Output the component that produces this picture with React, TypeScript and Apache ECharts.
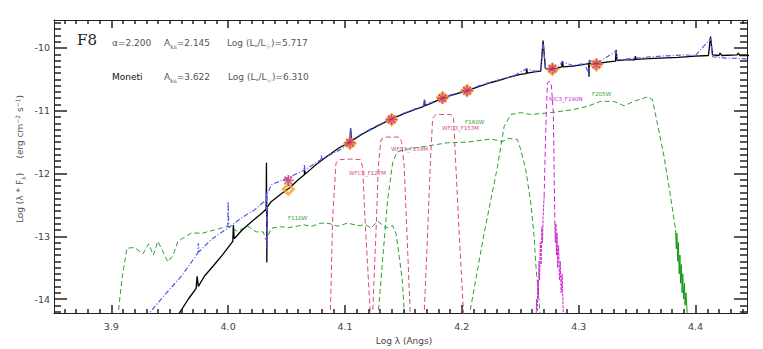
import React, { useEffect, useRef } from "react";
import * as echarts from "echarts";

const X_MIN = 3.851;
const X_MAX = 4.444;
const Y_MIN = -14.223;
const Y_MAX = -9.554;
const xMajorTicks = [3.9, 4.0, 4.1, 4.2, 4.3, 4.4];
const yMajorTicks = [-14, -13, -12, -11, -10];
const xMinorTicks: number[] = [];
for (let i = 386; i <= 444; i++) if (i % 10 !== 0) xMinorTicks.push(i / 100);
const yMinorTicks: number[] = [];
for (let i = -142; i <= -96; i++) if (i % 10 !== 0) yMinorTicks.push(i / 10);

const modelSpectrum = [
  [3.955, -14.3], [3.9584, -14.22], [3.966, -14.0], [3.9726, -13.83], [3.9735, -13.64], [3.9745, -13.8],
  [3.98, -13.63], [3.9883, -13.45], [3.995, -13.3], [4.004, -13.08], [4.0045, -12.82], [4.0052, -13.04],
  [4.012, -12.9], [4.02, -12.77], [4.027, -12.66], [4.0325, -12.57], [4.0328, -11.83], [4.0331, -13.42],
  [4.0334, -12.54], [4.0368, -12.45], [4.045, -12.33], [4.0524, -12.23], [4.06, -12.1], [4.0652, -12.02],
  [4.0655, -11.94], [4.066, -12.01], [4.075, -11.86], [4.085, -11.72], [4.095, -11.59], [4.1043, -11.5],
  [4.1048, -11.28], [4.1055, -11.48], [4.115, -11.37], [4.125, -11.27], [4.139, -11.14], [4.15, -11.05],
  [4.16, -10.98], [4.1675, -10.93], [4.168, -10.83], [4.1686, -10.92], [4.175, -10.87], [4.182, -10.81],
  [4.19, -10.76], [4.205, -10.68], [4.215, -10.61], [4.225, -10.55], [4.2333, -10.51], [4.24, -10.47],
  [4.25, -10.42], [4.255, -10.41], [4.2555, -10.33], [4.256, -10.4], [4.262, -10.38], [4.2675, -10.37],
  [4.2695, -9.88], [4.2715, -10.33], [4.276, -10.34], [4.282, -10.32], [4.2855, -10.3], [4.286, -10.21],
  [4.2868, -10.3], [4.295, -10.29], [4.305, -10.26], [4.3085, -10.25], [4.3088, -10.46], [4.3092, -10.19],
  [4.3096, -10.25], [4.316, -10.25], [4.325, -10.22], [4.3315, -10.21], [4.332, -10.03], [4.3328, -10.2],
  [4.34, -10.19], [4.348, -10.19], [4.3485, -10.13], [4.349, -10.18], [4.36, -10.17], [4.37, -10.16],
  [4.385, -10.15], [4.4, -10.13], [4.411, -10.12], [4.4128, -9.82], [4.4145, -10.11], [4.42, -10.12],
  [4.421, -10.08], [4.4225, -10.12], [4.4355, -10.11], [4.4365, -10.08], [4.438, -10.12], [4.45, -10.12],
];

const observedSpectrum = [
  [3.93, -14.3], [3.9328, -14.22], [3.945, -13.95], [3.9598, -13.64], [3.966, -13.48], [3.9741, -13.27],
  [3.9745, -13.11], [3.975, -13.25], [3.985, -13.06], [3.9997, -12.87], [4.0, -12.45], [4.0005, -12.86],
  [4.012, -12.7], [4.0225, -12.58], [4.0325, -12.42], [4.0328, -12.3], [4.0331, -13.2], [4.0334, -12.35],
  [4.0368, -12.18], [4.051, -12.07], [4.065, -11.95], [4.0652, -11.85], [4.0656, -11.94], [4.0795, -11.78],
  [4.0798, -11.7], [4.0802, -11.77], [4.098, -11.6], [4.1043, -11.5], [4.1048, -11.28], [4.1055, -11.47],
  [4.115, -11.36], [4.125, -11.26], [4.139, -11.13], [4.15, -11.04], [4.16, -10.97], [4.1675, -10.92],
  [4.168, -10.81], [4.1686, -10.91], [4.175, -10.86], [4.182, -10.8], [4.19, -10.75], [4.205, -10.67],
  [4.215, -10.6], [4.225, -10.54], [4.2333, -10.5], [4.245, -10.44], [4.2555, -10.33], [4.262, -10.37],
  [4.2675, -10.36], [4.2695, -9.9], [4.2715, -10.32], [4.282, -10.31], [4.286, -10.22], [4.295, -10.28],
  [4.305, -10.25], [4.3088, -10.42], [4.3092, -10.2], [4.316, -10.24], [4.332, -10.05], [4.3328, -10.19],
  [4.35, -10.16], [4.37, -10.13], [4.39, -10.11], [4.4, -10.12], [4.4128, -9.85], [4.4145, -10.14],
  [4.425, -10.16], [4.44, -10.17], [4.45, -10.18],
];

const f110w = [
  [3.905, -14.3], [3.906, -14.22], [3.909, -13.7], [3.9134, -13.19], [3.92, -13.18], [3.9271, -13.28],
  [3.932, -13.12], [3.936, -13.3], [3.9399, -13.08], [3.947, -13.35], [3.9484, -13.41], [3.953, -13.3],
  [3.957, -13.08], [3.9684, -12.95], [3.978, -12.95], [3.9883, -12.9], [3.9997, -12.84], [4.008, -12.92],
  [4.0168, -12.84], [4.024, -12.93], [4.03, -12.93], [4.0325, -13.06], [4.037, -12.87], [4.045, -12.85],
  [4.0524, -12.86], [4.0652, -12.82], [4.072, -12.84], [4.0795, -12.79], [4.087, -12.8], [4.0938, -12.84],
  [4.1023, -12.79], [4.111, -12.83], [4.118, -12.82], [4.1222, -12.87], [4.128, -12.76], [4.135, -12.87],
  [4.1408, -12.83], [4.1436, -12.95], [4.1464, -13.32], [4.1493, -13.75], [4.1507, -14.22], [4.151, -14.3],
];
const f160w = [
  [4.128, -14.3], [4.1285, -14.22], [4.1322, -13.37], [4.1365, -12.42], [4.1408, -11.83], [4.1444, -11.66],
  [4.1507, -11.62], [4.1678, -11.57], [4.1878, -11.51], [4.205, -11.5], [4.2248, -11.45], [4.2348, -11.49],
  [4.2404, -11.44], [4.2476, -11.46], [4.2504, -11.62], [4.2547, -11.94], [4.259, -12.47], [4.2618, -13.0],
  [4.2632, -13.43], [4.2647, -13.75], [4.2669, -14.22], [4.267, -14.3],
];
const f205w = [
  [4.2065, -14.3], [4.2068, -14.22], [4.2191, -12.95], [4.2305, -11.89], [4.2362, -11.25], [4.2419, -11.06],
  [4.2504, -11.03], [4.259, -11.06], [4.2761, -11.03], [4.296, -10.98], [4.3074, -10.93], [4.3188, -10.85],
  [4.33, -10.85], [4.3387, -10.92], [4.3473, -10.85], [4.3587, -10.78], [4.363, -10.82], [4.3673, -11.2],
  [4.373, -11.73], [4.3786, -12.37], [4.3829, -12.9],
];
const f205wTail = [
  [4.3829, -12.9], [4.3835, -13.2], [4.384, -12.95], [4.3848, -13.4], [4.3853, -13.1], [4.386, -13.6],
  [4.3866, -13.3], [4.3872, -13.75], [4.3878, -13.45], [4.3885, -13.9], [4.389, -13.6], [4.3898, -14.0],
  [4.3905, -13.75], [4.391, -14.1], [4.3918, -13.9], [4.3928, -14.22], [4.393, -14.3],
];
const f127m = [
  [4.0872, -14.3], [4.0875, -14.22], [4.0895, -12.68], [4.0923, -11.83], [4.0952, -11.78], [4.104, -11.77],
  [4.1131, -11.78], [4.1151, -11.89], [4.117, -12.68], [4.1194, -13.48], [4.1216, -14.22], [4.122, -14.3],
];
const f139m = [
  [4.1235, -14.3], [4.1237, -14.22], [4.1265, -12.95], [4.1285, -11.89], [4.1308, -11.46], [4.135, -11.42],
  [4.1464, -11.42], [4.1484, -11.49], [4.1507, -11.89], [4.153, -12.95], [4.1558, -14.22], [4.156, -14.3],
];
const f153m = [
  [4.1676, -14.3], [4.1678, -14.22], [4.1707, -12.95], [4.1729, -11.89], [4.175, -11.12], [4.1778, -11.06],
  [4.1906, -11.06], [4.1929, -11.12], [4.1949, -11.89], [4.1977, -12.95], [4.2014, -14.22], [4.2016, -14.3],
];
const f190n = [
  [4.2704, -12.37], [4.2718, -11.3], [4.2732, -10.56], [4.2746, -10.53], [4.2766, -10.59], [4.2783, -11.04],
  [4.2796, -12.84],
];
const f190nLeftTail = [
  [4.2635, -14.3], [4.264, -14.0], [4.2645, -14.2], [4.265, -13.7], [4.2655, -13.95], [4.266, -13.4],
  [4.2665, -13.7], [4.2672, -13.1], [4.2678, -13.45], [4.2685, -12.85], [4.269, -13.1], [4.2695, -12.7],
  [4.2704, -12.37],
];
const f190nRightTail = [
  [4.2796, -12.84], [4.28, -13.1], [4.2805, -12.8], [4.281, -13.3], [4.2815, -12.95], [4.282, -13.5],
  [4.2828, -13.15], [4.2835, -13.7], [4.2842, -13.4], [4.285, -13.9], [4.2858, -13.6], [4.2866, -14.1],
  [4.287, -14.3],
];

const photLogLambda = [4.0515, 4.1043, 4.1399, 4.1835, 4.2045, 4.2775, 4.3151];
const photModel = [-12.25, -11.52, -11.14, -10.79, -10.68, -10.34, -10.27];
const photObserved = [-12.11, -11.51, -11.14, -10.8, -10.68, -10.33, -10.26];

const GREEN = "#2e9e2e";
const PINK = "#d9487e";
const MAGENTA = "#d024d0";
const FONT = "DejaVu Sans";
const TICK_COLOR = "#222";

const GRID = { left: 54, top: 20, right: 16, bottom: 36 };
const W = 763;
const H = 349;

export default function App() {
  const ref = useRef<HTMLDivElement>(null);
  useEffect(() => {
    if (!ref.current) return;
    const chart = echarts.init(ref.current, null, { renderer: "svg" });
    const frame = { color: "#222", width: 1 };

    const line = (name: string, data: any[], color: string, type: any, width = 1) => ({
      name, type: "line", data, xAxisIndex: 0, yAxisIndex: 0, showSymbol: false, symbol: "none",
      lineStyle: { color, width, type }, silent: true, z: 2,
    });
    const rich = {
      n: { fontSize: 9, fontFamily: FONT, fill: "#555", lineHeight: 12, verticalAlign: "middle" },
      s: { fontSize: 6, fontFamily: FONT, fill: "#555", lineHeight: 6, verticalAlign: "bottom" },
      p: { fontSize: 6, fontFamily: FONT, fill: "#555", lineHeight: 6, verticalAlign: "top" },
      d: { fontSize: 9, fontFamily: FONT, fill: "#111", lineHeight: 12, verticalAlign: "middle" },
    };
    const txt = (x: number, y: number, text: string) => ({
      type: "text", x, y, z: 100,
      style: { text, rich, textAlign: "left", textVerticalAlign: "middle" },
    });
    const flabel = (x: number, y: number, text: string, color: string) => ({
      type: "text", x, y, z: 100,
      style: { text, fill: color, fontSize: 5.5, fontFamily: FONT, textAlign: "left", textVerticalAlign: "middle" },
    });
    const asterisk = "path://M5,0L5,10M0,5L10,5M1.5,1.5L8.5,8.5M1.5,8.5L8.5,1.5";

    // tick marks on all four sides: 'lines' series segments in data units
    const plotW = W - GRID.left - GRID.right;
    const plotH = H - GRID.top - GRID.bottom;
    const dxPerPx = (X_MAX - X_MIN) / plotW;
    const dyPerPx = (Y_MAX - Y_MIN) / plotH;
    const tickLines: any[] = [];
    const addX = (v: number, lenPx: number) => {
      tickLines.push({ coords: [[v, Y_MIN], [v, Y_MIN + lenPx * dyPerPx]] });
      tickLines.push({ coords: [[v, Y_MAX], [v, Y_MAX - lenPx * dyPerPx]] });
    };
    const addY = (v: number, lenPx: number) => {
      tickLines.push({ coords: [[X_MIN, v], [X_MIN + lenPx * dxPerPx, v]] });
      tickLines.push({ coords: [[X_MAX, v], [X_MAX - lenPx * dxPerPx, v]] });
    };
    xMajorTicks.forEach((v) => addX(v, 8));
    xMinorTicks.forEach((v) => addX(v, 4));
    yMajorTicks.forEach((v) => addY(v, 13));
    yMinorTicks.forEach((v) => addY(v, 7));

    chart.setOption({
      animation: false,
      backgroundColor: "#fff",
      grid: { ...GRID, containLabel: false },
      xAxis: [
        {
          type: "value", position: "bottom", min: X_MIN, max: X_MAX,
          axisLine: { show: true, onZero: false, lineStyle: frame },
          axisTick: { show: false },
          axisLabel: { show: true, customValues: xMajorTicks, formatter: (v: number) => v.toFixed(1), color: "#444", fontSize: 9.5, fontFamily: FONT, margin: 8 },
          splitLine: { show: false },
        },
        {
          type: "value", position: "top", min: X_MIN, max: X_MAX,
          axisLine: { show: true, onZero: false, lineStyle: frame },
          axisTick: { show: false }, axisLabel: { show: false }, splitLine: { show: false },
        },
      ],
      yAxis: [
        {
          type: "value", position: "left", min: Y_MIN, max: Y_MAX,
          axisLine: { show: true, onZero: false, lineStyle: frame },
          axisTick: { show: false },
          axisLabel: { show: true, customValues: yMajorTicks, formatter: (v: number) => String(Math.round(v)), color: "#444", fontSize: 9.5, fontFamily: FONT, margin: 4 },
          splitLine: { show: false },
        },
        {
          type: "value", position: "right", min: Y_MIN, max: Y_MAX,
          axisLine: { show: true, onZero: false, lineStyle: frame },
          axisTick: { show: false }, axisLabel: { show: false }, splitLine: { show: false },
        },
      ],
      series: [
        line("F110W", f110w, GREEN, [5, 3]),
        line("F160W", f160w, GREEN, [5, 3]),
        line("F205W", f205w, GREEN, [5, 3]),
        line("F205W tail", f205wTail, "#139913", "solid", 1),
        line("WFC3_F127M", f127m, PINK, [5, 3]),
        line("WFC3_F139M", f139m, PINK, [5, 3]),
        line("WFC3_F153M", f153m, PINK, [5, 3]),
        line("NIC3_F190N", f190n, MAGENTA, [5, 3]),
        line("F190N left", f190nLeftTail, MAGENTA, [3, 1], 1),
        line("F190N right", f190nRightTail, MAGENTA, [3, 1], 1),
        { ...line("model", modelSpectrum, "#000", "solid", 1.3), z: 3 },
        { ...line("observed", observedSpectrum, "#5858f0", [5, 2, 1, 2], 1.2), z: 4 },
        {
          name: "phot model", type: "scatter", xAxisIndex: 0, yAxisIndex: 0, z: 5,
          data: photLogLambda.map((x, i) => [x, photModel[i]]),
          symbol: "diamond", symbolSize: 10,
          itemStyle: { color: "rgba(0,0,0,0)", borderColor: "#f7a21e", borderWidth: 3 },
        },
        {
          name: "phot obs", type: "scatter", xAxisIndex: 0, yAxisIndex: 0, z: 6,
          data: photLogLambda.map((x, i) => [x, photObserved[i]]),
          symbol: asterisk, symbolSize: 11,
          itemStyle: { color: "rgba(0,0,0,0)", borderColor: "#c8306e", borderWidth: 1.6 },
        },
        {
          name: "ticks", type: "lines", coordinateSystem: "cartesian2d", xAxisIndex: 0, yAxisIndex: 0,
          silent: true, z: 10, symbol: "none",
          lineStyle: { color: TICK_COLOR, width: 1.5, opacity: 1, curveness: 0 },
          data: tickLines,
        },
      ],
      graphic: {
        elements: [
          { type: "text", x: 77, y: 40, z: 100, style: { text: "F8", fill: "#222", fontSize: 15, fontFamily: "DejaVu Serif", textAlign: "left", textVerticalAlign: "middle" } },
          txt(112, 43, "{n|α=2.200}"),
          txt(164, 43, "{n|A}{s|ks}{n|=2.145}"),
          txt(227, 43, "{n|Log (L}{s|*}{n|/L}{s|☉}{n|)=5.717}"),
          txt(112, 77, "{d|Moneti}"),
          txt(164, 77, "{n|A}{s|ks}{n|=3.622}"),
          txt(228, 77, "{n|Log (L}{s|*}{n|/L}{s|☉}{n|)=6.310}"),
          {
            type: "text", x: 20, y: 159, rotation: Math.PI / 2, z: 100,
            style: { text: "{n|Log (λ * F}{s|λ}{n|)     (erg cm}{p|−2}{n| s}{p|−1}{n|)}", rich, textAlign: "center", textVerticalAlign: "middle" },
          },
          { type: "text", x: 404, y: 341, z: 100, style: { text: "Log λ (Angs)", fill: "#444", fontSize: 9, fontFamily: FONT, textAlign: "center", textVerticalAlign: "middle" } },
          flabel(288, 218, "F110W", GREEN),
          flabel(465, 122, "F160W", GREEN),
          flabel(592, 94, "F205W", GREEN),
          flabel(442, 128, "WFC3_F153M", PINK),
          flabel(391, 149, "WFC3_F139M", PINK),
          flabel(349, 173, "WFC3_F127M", PINK),
          flabel(549, 99, "NIC3_F190N", MAGENTA),
        ],
      },
    });

    return () => chart.dispose();
  }, []);
  return <div ref={ref} style={{ position: "absolute", left: 0, top: 0, width: W, height: H }} />;
}
